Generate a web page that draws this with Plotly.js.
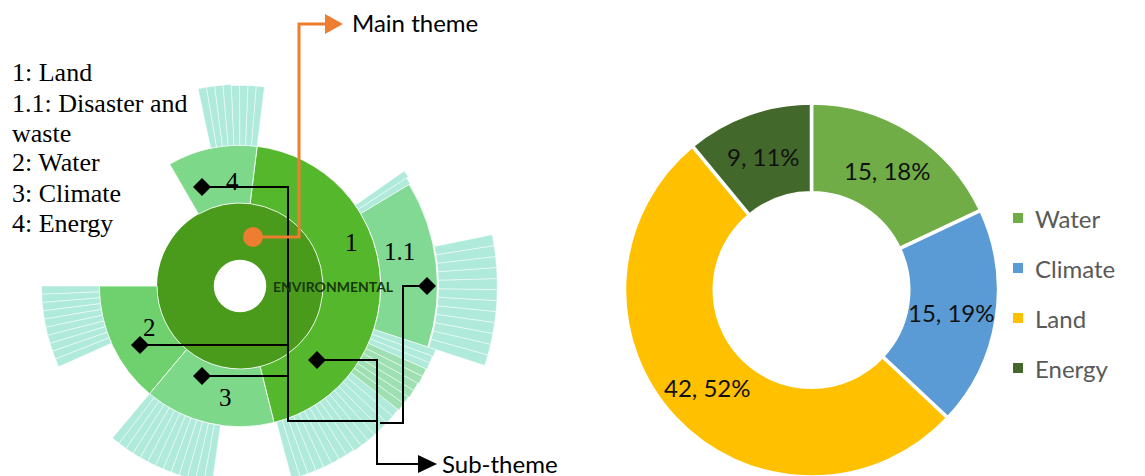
<!DOCTYPE html>
<html><head><meta charset="utf-8">
<script src="https://cdn.plot.ly/plotly-3.0.1.min.js"></script>
<style>
html,body{margin:0;padding:0;width:1145px;height:476px;overflow:hidden;background:#fff}
#chart{position:absolute;left:-30px;top:0;width:1175px;height:560px}
</style></head><body><div id="chart"></div>
<script>
// ---------------- donut data ----------------
const themes = ['Water', 'Climate', 'Land', 'Energy'];
const themeCounts = [15, 15, 42, 9];
const themeShares = [18, 19, 52, 11];
const themeColors = ['#70ad47', '#5b9bd5', '#ffc000', '#43682b'];

// ---------------- sunburst data (degrees ccw from east, radii in ring units) ----------------
const rootLabel = 'ENVIRONMENTAL';
const ringEdges = [25, 79, 134, 189, 245];
const mainThemes = ['Land', 'Energy', 'Water', 'Climate'];
const mainStart = [-76, 83, 180, 230];
const mainEnd = [83, 120, 230, 284];
const mainColors = ['#55b82c', '#7dd88a', '#6fd16d', '#7dd88a'];
const subTheme = ['Disaster and waste'];
const subStart = [-18];
const subEnd = [31];

const stripeGroups = ['Energy', 'Land upper', 'Land lower', 'Land mid', 'Land edge', 'Water', 'Climate', 'Disaster and waste'];
const stripeStart = [83, 31, -75, -38, -24, 180, 230, -18];
const stripeEnd = [102, 35, -38, -24, -18, 204, 262, 11.5];
const stripeLevel = [2, 2, 2, 2, 2, 2, 2, 3];
const stripeColors = ['#b0eadb', '#b0eadb', '#b0eadb', '#9ee0b2', '#b0eadb', '#b0eadb', '#b0eadb', '#b0eadb'];
const stripeLengths = [
  [57, 57, 57, 57, 58, 58, 58, 58],
  [55, 57],
  [56, 56, 56, 56, 56, 56, 56, 56, 57, 57, 57, 57, 57, 57, 57],
  [58, 58, 59, 59, 60, 60],
  [61, 61, 62],
  [55, 55, 55, 55, 55, 55, 55, 55, 55, 55],
  [55, 55, 55, 55, 55, 55, 55, 55, 55, 55, 55, 55, 55],
  [56, 56, 56, 56, 56, 56, 56, 56, 56, 56, 56, 56]
];

// ---------------- annotation text ----------------
const keyLines = ['1: Land', '1.1: Disaster and', 'waste', '2: Water', '3: Climate', '4: Energy'];
const segLabels = ['4', '1', '1.1', '2', '3'];

// ---------------- page geometry ----------------
const W = 1175, H = 560, OX = 30;
const PX = x => (x + OX) / W;
const PY = y => (H - y) / H;
const cx = 240, cy = 286, kScale = 1.05, Rmax = 252;
const Rpx = Rmax * kScale;
const pcx = 811.5, pcy = 290, pr = 187, phole = 0.52;

const traces = [];
// root ring
traces.push({
  type: 'barpolar', theta: [90, 270], width: [180, 180],
  base: [ringEdges[0], ringEdges[0]], r: [ringEdges[1] - ringEdges[0], ringEdges[1] - ringEdges[0]],
  marker: {color: '#4a9b1b', line: {width: 0}}, hoverinfo: 'skip', showlegend: false
});
// main themes
traces.push({
  type: 'barpolar',
  theta: mainThemes.map((_, i) => (mainStart[i] + mainEnd[i]) / 2),
  width: mainThemes.map((_, i) => mainEnd[i] - mainStart[i]),
  base: mainThemes.map(() => ringEdges[1]),
  r: mainThemes.map(() => ringEdges[2] - ringEdges[1]),
  marker: {color: mainColors, line: {color: 'rgba(255,255,255,0.8)', width: 1}},
  hoverinfo: 'skip', showlegend: false
});
// sub theme 1.1
traces.push({
  type: 'barpolar',
  theta: subTheme.map((_, i) => (subStart[i] + subEnd[i]) / 2),
  width: subTheme.map((_, i) => subEnd[i] - subStart[i]),
  base: subTheme.map(() => ringEdges[2]),
  r: subTheme.map(() => ringEdges[3] - 1 - ringEdges[2]),
  marker: {color: '#82d993', line: {color: 'rgba(255,255,255,0.8)', width: 1}},
  hoverinfo: 'skip', showlegend: false
});
// stripes
stripeGroups.forEach((g, gi) => {
  const L = stripeLengths[gi];
  const w = (stripeEnd[gi] - stripeStart[gi]) / L.length;
  const base = ringEdges[stripeLevel[gi]];
  traces.push({
    type: 'barpolar', name: g,
    theta: L.map((_, i) => stripeStart[gi] + (i + 0.5) * w),
    width: L.map(() => w),
    base: L.map(() => base),
    r: L,
    marker: {color: stripeColors[gi], line: {color: 'rgba(255,255,255,0.8)', width: 0.6}},
    hoverinfo: 'skip', showlegend: false
  });
});

// donut
traces.push({
  type: 'pie', labels: themes, values: themeShares, textinfo: 'none',
  sort: false, direction: 'clockwise', rotation: 0, hole: phole,
  marker: {colors: themeColors, line: {color: '#ffffff', width: 3.5}},
  domain: {x: [PX(pcx - pr), PX(pcx + pr)], y: [PY(pcy + pr), PY(pcy - pr)]},
  hoverinfo: 'skip', showlegend: false
});
// legend squares
traces.push({
  type: 'scatter', mode: 'markers', x: themes.map(() => 0), y: themes,
  marker: {symbol: 'square', size: 10, color: themeColors},
  xaxis: 'x', yaxis: 'y', hoverinfo: 'skip', showlegend: false, cliponaxis: false
});

const annotations = [];
// donut slice labels, placed at each slice's mid angle on the ring centre line
const total = themeShares.reduce((a, b) => a + b, 0);
let cum = 0;
const rMid = pr * (1 + phole) / 2;
themes.forEach((t, i) => {
  const mid = (cum + themeShares[i] / 2) / total * 2 * Math.PI;
  cum += themeShares[i];
  annotations.push({
    xref: 'paper', yref: 'paper', x: PX(pcx + rMid * Math.sin(mid)), y: PY(pcy - rMid * Math.cos(mid)),
    xanchor: 'center', yanchor: 'middle', showarrow: false,
    text: themeCounts[i] + ', ' + themeShares[i] + '%',
    font: {family: 'Lato', size: 24, color: '#111111'}
  });
});
keyLines.forEach((t, i) => annotations.push({
  xref: 'paper', yref: 'paper', x: PX(10), y: PY(73 + 30 * i), xanchor: 'left', yanchor: 'middle',
  text: t, showarrow: false, font: {family: 'Liberation Serif', size: 26, color: '#000'}
}));
const segPos = [[232, 182], [351, 242], [399, 252], [149, 328], [225, 398]];
segLabels.forEach((t, i) => annotations.push({
  xref: 'paper', yref: 'paper', x: PX(segPos[i][0]), y: PY(segPos[i][1]), xanchor: 'center', yanchor: 'middle',
  text: t, showarrow: false, font: {family: 'Liberation Serif', size: 25, color: '#000'}
}));
annotations.push({
  xref: 'paper', yref: 'paper', x: PX(271), y: PY(286), xanchor: 'left', yanchor: 'middle',
  text: '<b>' + rootLabel + '</b>', showarrow: false, font: {family: 'Lato', size: 14, color: '#173a0c'}
});
annotations.push({
  xref: 'paper', yref: 'paper', x: PX(350), y: PY(23), xanchor: 'left', yanchor: 'middle',
  text: 'Main theme', showarrow: false, font: {family: 'Lato', size: 24, color: '#000'}
});
annotations.push({
  xref: 'paper', yref: 'paper', x: PX(440), y: PY(464), xanchor: 'left', yanchor: 'middle',
  text: 'Sub-theme', showarrow: false, font: {family: 'Lato', size: 24, color: '#000'}
});
themes.forEach(t => annotations.push({
  xref: 'paper', yref: 'y', x: PX(1033), y: t, xanchor: 'left', yanchor: 'middle',
  text: t, showarrow: false, font: {family: 'Lato', size: 24, color: '#595959'}
}));

function pathOf(pts, close) {
  return pts.map((p, i) => (i ? 'L' : 'M') + PX(p[0]) + ',' + PY(p[1])).join(' ') + (close ? ' Z' : '');
}
const shapes = [];
const blackLines = [
  [[202, 187], [288, 187], [288, 421], [378, 421]],
  [[140, 345], [288, 345]],
  [[202, 376], [288, 376]],
  [[427, 286], [403, 286], [403, 423], [380, 423]],
  [[317, 360], [377, 360], [377, 464], [422, 464]]
];
blackLines.forEach(l => shapes.push({type: 'path', xref: 'paper', yref: 'paper', path: pathOf(l), line: {color: '#000', width: 2}}));
shapes.push({type: 'path', xref: 'paper', yref: 'paper', path: pathOf([[418, 455], [437, 464], [418, 473]], true), fillcolor: '#000', line: {width: 0}});
const diamonds = [[202, 187], [140, 345], [202, 376], [317, 360], [427, 286]];
diamonds.forEach(d => shapes.push({type: 'path', xref: 'paper', yref: 'paper',
  path: pathOf([[d[0] - 9, d[1]], [d[0], d[1] - 9], [d[0] + 9, d[1]], [d[0], d[1] + 9]], true), fillcolor: '#000', line: {width: 0}}));
shapes.push({type: 'path', xref: 'paper', yref: 'paper', path: pathOf([[253, 237], [299, 237], [299, 24], [330, 24]]), line: {color: '#ed7d31', width: 3}});
shapes.push({type: 'path', xref: 'paper', yref: 'paper', path: pathOf([[325, 14], [343, 24], [325, 34]], true), fillcolor: '#ed7d31', line: {width: 0}});
shapes.push({type: 'circle', xref: 'paper', yref: 'paper', x0: PX(243), x1: PX(263), y0: PY(247), y1: PY(227), fillcolor: '#ed7d31', line: {width: 0}});

const layout = {
  width: W, height: H, margin: {l: 0, r: 0, t: 0, b: 0},
  paper_bgcolor: '#ffffff', plot_bgcolor: 'rgba(0,0,0,0)', showlegend: false,
  polar: {
    domain: {x: [PX(cx - Rpx), PX(cx + Rpx)], y: [PY(cy + Rpx), PY(cy - Rpx)]},
    bgcolor: 'rgba(0,0,0,0)', barmode: 'overlay', hole: 0,
    radialaxis: {range: [0, Rmax], visible: false, showgrid: false, showline: false, showticklabels: false, ticks: ''},
    angularaxis: {visible: false, showgrid: false, showline: false, showticklabels: false, ticks: '', rotation: 0, direction: 'counterclockwise'}
  },
  xaxis: {domain: [PX(1010), PX(1145)], range: [-8, 127], visible: false, fixedrange: true},
  yaxis: {domain: [PY(393), PY(193)], type: 'category', categoryarray: themes, range: [3.5, -0.5], visible: false, fixedrange: true},
  annotations: annotations, shapes: shapes
};
Plotly.newPlot('chart', traces, layout, {staticPlot: true, displayModeBar: false});
</script></body></html>
